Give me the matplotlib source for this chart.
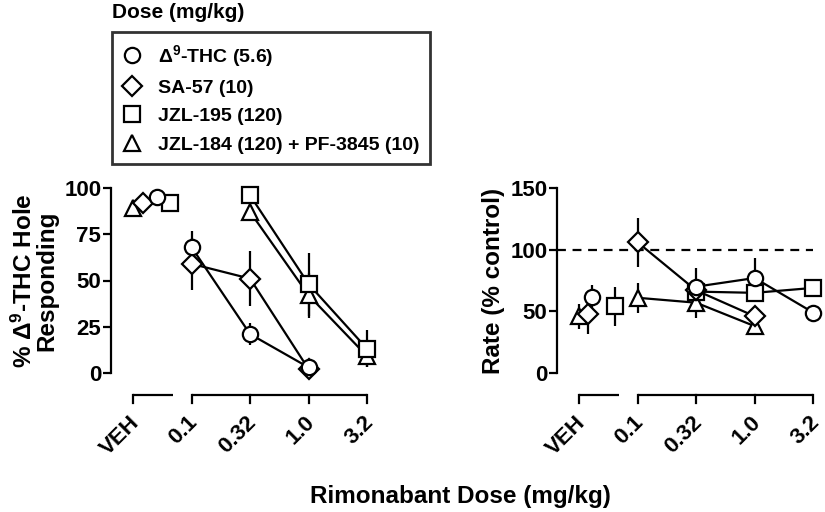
import numpy as np
import matplotlib
matplotlib.use("Agg")
import matplotlib.pyplot as plt
from matplotlib.lines import Line2D
import matplotlib.transforms as mtransforms

plt.rcParams['font.family'] = ['Liberation Sans', 'DejaVu Sans']
plt.rcParams['font.weight'] = 'bold'
plt.rcParams['mathtext.fontset'] = 'custom'
plt.rcParams['mathtext.rm'] = 'Liberation Sans:bold'
plt.rcParams['mathtext.bf'] = 'Liberation Sans:bold'
plt.rcParams['mathtext.it'] = 'Liberation Sans:bold'

# ---------------- data ----------------
dose_labels = ["0.1", "0.32", "1.0", "3.2"]
series_names = [r"$\Delta^{9}$-THC (5.6)", "SA-57 (10)", "JZL-195 (120)",
                "JZL-184 (120) + PF-3845 (10)"]
markers = ["o", "D", "s", "^"]

nan = np.nan
# % Δ9-THC hole responding
resp_veh = [95, 92, 92, 89]
resp_veh_err = [0, 0, 0, 0]
resp_thc = [68, 21, 3, nan]
resp_thc_err = [9, 6, 0, nan]
resp_sa57 = [59, 51, 2, nan]
resp_sa57_err = [14, 15, 0, nan]
resp_jzl195 = [nan, 96, 48, 13]
resp_jzl195_err = [nan, 0, 17, 10]
resp_combo = [nan, 87, 42, 9]
resp_combo_err = [nan, 0, 12, 6]

# Rate (% control)
rate_veh = [62, 48, 54, 46]
rate_veh_err = [9, 16, 16, 10]
rate_thc = [nan, 70, 77, 49]
rate_thc_err = [nan, 15, 16, 0]
rate_sa57 = [106, 67, 46, nan]
rate_sa57_err = [20, 0, 0, nan]
rate_jzl195 = [nan, 66, 65, 69]
rate_jzl195_err = [nan, 0, 0, 0]
rate_combo = [61, 57, 38, nan]
rate_combo_err = [12, 12, 5, nan]

# layout constants
veh_dodge_left = [0.41, 0.17, 0.63, 0.0]
veh_dodge_right = [0.22, 0.15, 0.61, 0.0]
marker_z = [3.4, 3.3, 3.2, 3.1]   # circle on top, triangle at the bottom

W, H = 825, 512
fig = plt.figure(figsize=(W / 100, H / 100), dpi=100)

def fx(px):
    return px / W

def fy(py):
    return 1 - py / H

axL = fig.add_axes([fx(111), fy(373), fx(265), fy(188) - fy(373)])
axR = fig.add_axes([fx(557), fy(373), fx(265), fy(188) - fy(373)])

lw = 1.6
ms = 11
mew = 1.6
TICK_FS = 16
LAB_FS = 17.5
dose_x = np.arange(1, len(dose_labels) + 1)


def msize(m):
    return ms * 0.9 if m == 'D' else ms


def draw_panel(ax, veh, veh_err, dose_series, dose_errs, dodge, ymax, yticks):
    for i, (m, ys, es) in enumerate(zip(markers, dose_series, dose_errs)):
        ys = np.array(ys, dtype=float)
        es = np.array(es, dtype=float)
        ax.errorbar(dose_x, ys, yerr=es, fmt='none', ecolor='k', elinewidth=lw,
                    capsize=0, zorder=2, clip_on=False)
        ax.plot(dose_x, ys, '-', color='k', lw=lw, zorder=2, clip_on=False)
        ax.errorbar([dodge[i]], [veh[i]], yerr=[veh_err[i]], fmt='none', ecolor='k',
                    elinewidth=lw, capsize=0, zorder=2, clip_on=False)
    for i, (m, ys) in enumerate(zip(markers, dose_series)):
        ax.plot(dose_x, ys, m, ms=msize(m), mfc='white', mec='k', mew=mew,
                zorder=marker_z[i], clip_on=False)
        ax.plot([dodge[i]], [veh[i]], m, ms=msize(m), mfc='white', mec='k', mew=mew,
                zorder=marker_z[i], clip_on=False)

    ax.set_xlim(-0.376, 4.15)
    ax.set_ylim(0, ymax)
    ax.set_yticks(yticks)
    ax.set_yticklabels([str(t) for t in yticks], fontsize=TICK_FS, fontweight='bold')
    for s in ['top', 'right', 'bottom']:
        ax.spines[s].set_visible(False)
    ax.spines['left'].set_linewidth(lw)
    ax.tick_params(axis='y', width=lw, length=6, pad=1)
    ax.set_xticks([])

    # broken x-axis segments
    tr = mtransforms.blended_transform_factory(ax.transData, ax.transAxes)
    yseg = -22 / 185
    ytk = yseg - 8 / 185
    ax.plot([0, 0.68], [yseg, yseg], color='k', lw=lw, transform=tr, clip_on=False,
            solid_capstyle='butt')
    ax.plot([0, 0], [yseg, ytk], color='k', lw=lw, transform=tr, clip_on=False)
    ax.plot([1, dose_x[-1]], [yseg, yseg], color='k', lw=lw, transform=tr, clip_on=False,
            solid_capstyle='butt')
    for xv in dose_x:
        ax.plot([xv, xv], [yseg, ytk], color='k', lw=lw, transform=tr, clip_on=False)
    labs = ["VEH"] + dose_labels
    for xv, lab in zip([0] + list(dose_x), labs):
        ax.text(xv + 0.05, -0.25, lab, transform=tr, rotation=45, rotation_mode='anchor',
                ha='right', va='center', fontsize=TICK_FS, fontweight='bold')


draw_panel(axL, resp_veh, resp_veh_err,
           [resp_thc, resp_sa57, resp_jzl195, resp_combo],
           [resp_thc_err, resp_sa57_err, resp_jzl195_err, resp_combo_err],
           veh_dodge_left, 100, [0, 25, 50, 75, 100])
draw_panel(axR, rate_veh, rate_veh_err,
           [rate_thc, rate_sa57, rate_jzl195, rate_combo],
           [rate_thc_err, rate_sa57_err, rate_jzl195_err, rate_combo_err],
           veh_dodge_right, 150, [0, 50, 100, 150])

axR.plot([-0.376, 4.0], [100, 100], color='k', lw=lw, ls=(0, (4, 3)), zorder=1)

axL.set_ylabel("% $\\Delta^{9}$-THC Hole\nResponding", fontsize=LAB_FS, fontweight='bold',
               labelpad=4, linespacing=0.95)
axR.set_ylabel("Rate (% control)", fontsize=LAB_FS, fontweight='bold', labelpad=4)

fig.text(fx(460), fy(497), "Rimonabant Dose (mg/kg)", ha='center', va='center',
         fontsize=LAB_FS, fontweight='bold')

# legend
handles = [Line2D([], [], ls='none', marker=m, ms=msize(m),
                  mfc='white', mec='k', mew=mew) for m in markers]
leg = fig.legend(handles, series_names, loc='upper left',
                 bbox_to_anchor=(fx(112), fy(32)), frameon=True, fancybox=False,
                 edgecolor='k', prop={'weight': 'bold', 'size': 14},
                 handlelength=1.0, handletextpad=0.8, labelspacing=0.55,
                 borderpad=0.55, borderaxespad=0)
leg.get_frame().set_linewidth(lw + 0.4)
fig.text(fx(112), fy(12), "Dose (mg/kg)", ha='left', va='center', fontsize=15,
         fontweight='bold')

fig.savefig("out.png", dpi=100)
